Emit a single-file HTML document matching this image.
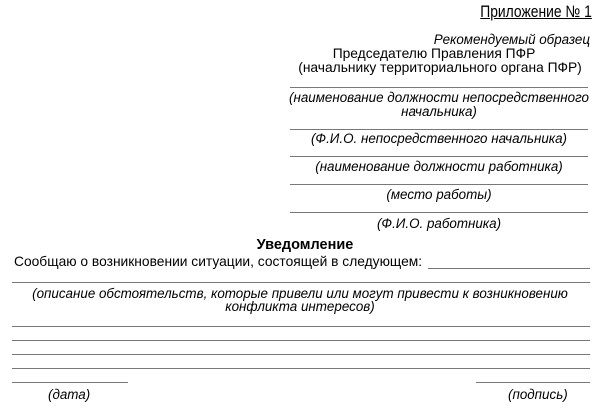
<!DOCTYPE html>
<html><head><meta charset="utf-8"><style>
body{margin:0;background:#fff;width:600px;height:408px;overflow:hidden;position:relative;font-family:"Liberation Sans",sans-serif;color:#000;font-size:13.8px}
.t{position:absolute;white-space:nowrap;line-height:14px}
.i{font-style:italic;font-size:13.4px}
.c{text-align:center}
.l{position:absolute;height:0;border-top:1px solid #777}
</style></head><body>
<div class="t" style="right:8px;top:3px;font-size:16.5px;text-decoration:underline;line-height:18px;transform:scaleX(0.84);transform-origin:right center">Приложение № 1</div>
<div class="t i" style="right:10px;top:33px">Рекомендуемый образец</div>
<div class="t c" style="left:284px;width:300px;top:47px">Председателю Правления ПФР</div>
<div class="t c" style="left:290px;width:300px;top:61px">(начальнику территориального органа ПФР)</div>
<div class="l" style="left:290px;width:298px;top:87px"></div>
<div class="t c i" style="left:286px;width:306px;top:91px">(наименование должности непосредственного</div>
<div class="t c i" style="left:286px;width:306px;top:105px">начальника)</div>
<div class="l" style="left:290px;width:298px;top:129px"></div>
<div class="t c i" style="left:286px;width:306px;top:132px">(Ф.И.О. непосредственного начальника)</div>
<div class="l" style="left:290px;width:298px;top:156px"></div>
<div class="t c i" style="left:286px;width:306px;top:160px">(наименование должности работника)</div>
<div class="l" style="left:290px;width:298px;top:184px"></div>
<div class="t c i" style="left:286px;width:306px;top:188px">(место работы)</div>
<div class="l" style="left:290px;width:298px;top:212px"></div>
<div class="t c i" style="left:286px;width:306px;top:217px">(Ф.И.О. работника)</div>
<div class="t c" style="left:0;width:610px;top:238px;font-weight:bold;font-size:14.5px">Уведомление</div>
<div class="t" style="left:14px;top:255px">Сообщаю о возникновении ситуации, состоящей в следующем:</div>
<div class="l" style="left:428px;width:162px;top:268px"></div>
<div class="l" style="left:12px;width:578px;top:282px"></div>
<div class="t c i" style="left:0;width:600px;top:287px">(описание обстоятельств, которые привели или могут привести к возникновению</div>
<div class="t c i" style="left:0;width:600px;top:300px">конфликта интересов)</div>
<div class="l" style="left:12px;width:578px;top:326px"></div>
<div class="l" style="left:12px;width:578px;top:340px"></div>
<div class="l" style="left:12px;width:578px;top:354px"></div>
<div class="l" style="left:12px;width:578px;top:368px"></div>
<div class="l" style="left:12px;width:116px;top:382px"></div>
<div class="l" style="left:476px;width:114px;top:382px"></div>
<div class="t i" style="left:48px;top:388px">(дата)</div>
<div class="t i" style="left:508px;top:388px">(подпись)</div>
</body></html>
